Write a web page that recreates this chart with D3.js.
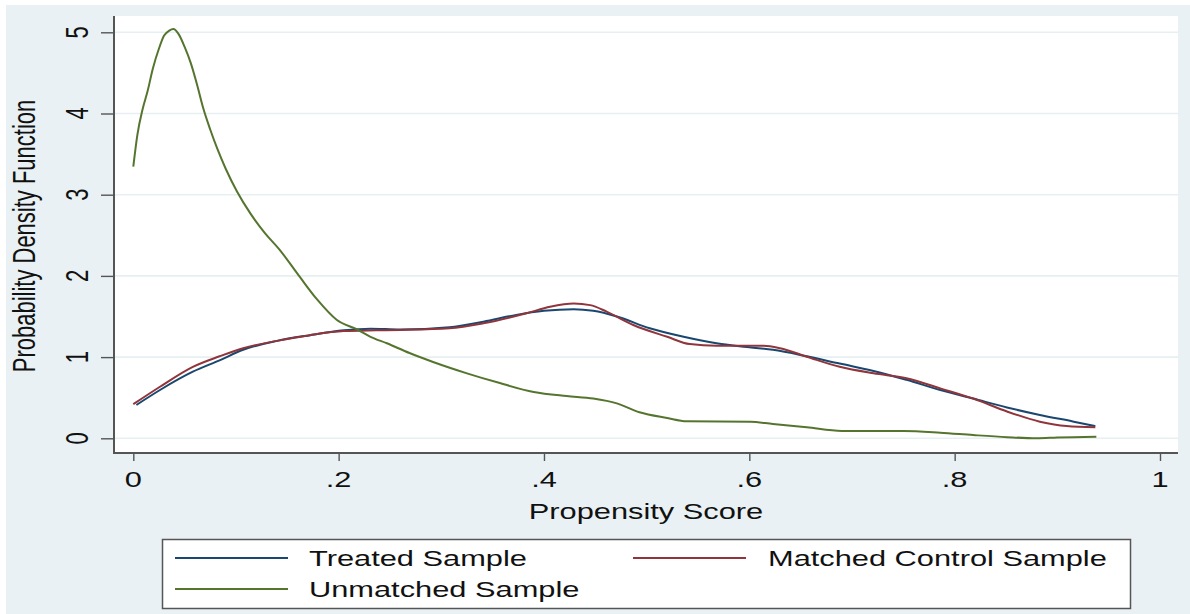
<!DOCTYPE html>
<html>
<head>
<meta charset="utf-8">
<script src="https://cdn.jsdelivr.net/npm/d3@7"></script>
<style>
  body { margin: 0; background: #fff; }
  svg { display: block; font-family: "Liberation Sans", Arial, sans-serif; }
</style>
</head>
<body>
<div class="container"></div>
<script>
const width = 1190,
    height = 614,
    stretch = 1.4;

// Treated Sample (blue)
const treatedX = [0.003, 0.026, 0.058, 0.084, 0.107, 0.14, 0.172, 0.205, 0.231, 0.26, 0.308, 0.341, 0.373, 0.40, 0.429, 0.448, 0.471, 0.503, 0.536, 0.568, 0.60, 0.623, 0.656, 0.688, 0.721, 0.753, 0.786, 0.818, 0.851, 0.883, 0.916, 0.937];
const treatedY = [0.41, 0.595, 0.82, 0.96, 1.09, 1.20, 1.27, 1.33, 1.35, 1.34, 1.367, 1.436, 1.52, 1.57, 1.59, 1.57, 1.50, 1.355, 1.25, 1.17, 1.12, 1.09, 1.01, 0.92, 0.83, 0.72, 0.595, 0.49, 0.38, 0.287, 0.205, 0.15];

// Matched Control Sample (red)
const matchedX = [0, 0.026, 0.058, 0.084, 0.107, 0.14, 0.172, 0.205, 0.237, 0.26, 0.308, 0.341, 0.383, 0.406, 0.429, 0.445, 0.461, 0.487, 0.52, 0.542, 0.568, 0.60, 0.614, 0.63, 0.656, 0.688, 0.721, 0.753, 0.786, 0.818, 0.851, 0.883, 0.909, 0.937];
const matchedY = [0.42, 0.635, 0.88, 1.01, 1.11, 1.20, 1.27, 1.32, 1.33, 1.335, 1.355, 1.416, 1.54, 1.62, 1.66, 1.64, 1.56, 1.395, 1.25, 1.16, 1.14, 1.14, 1.14, 1.11, 1.005, 0.88, 0.80, 0.74, 0.615, 0.49, 0.33, 0.205, 0.15, 0.135];

// Unmatched Sample (green)
const unmatchedX = [0, 0.004, 0.009, 0.014, 0.019, 0.025, 0.03, 0.035, 0.039, 0.044, 0.05, 0.056, 0.062, 0.068, 0.075, 0.082, 0.09, 0.101, 0.114, 0.128, 0.142, 0.162, 0.179, 0.198, 0.218, 0.231, 0.247, 0.269, 0.292, 0.325, 0.357, 0.39, 0.422, 0.448, 0.471, 0.493, 0.52, 0.539, 0.601, 0.623, 0.656, 0.69, 0.75, 0.786, 0.818, 0.851, 0.88, 0.90, 0.938];
const unmatchedY = [3.345, 3.74, 4.05, 4.28, 4.55, 4.8, 4.96, 5.02, 5.04, 4.98, 4.82, 4.62, 4.36, 4.07, 3.8, 3.56, 3.32, 3.04, 2.77, 2.53, 2.33, 1.99, 1.71, 1.46, 1.34, 1.25, 1.17, 1.05, 0.94, 0.80, 0.68, 0.57, 0.52, 0.49, 0.43, 0.32, 0.25, 0.21, 0.205, 0.176, 0.135, 0.09, 0.09, 0.069, 0.04, 0.014, 0.0, 0.01, 0.02];

const xTicks = [0, 0.2, 0.4, 0.6, 0.8, 1];
const xTickLabels = ['0', '.2', '.4', '.6', '.8', '1'];
const yTicks = [0, 1, 2, 3, 4, 5];

const seriesNames = ['Treated Sample', 'Matched Control Sample', 'Unmatched Sample'];
const seriesColors = ['#1a476f', '#90353b', '#55752f'];

const series = [
    { name: seriesNames[0], color: seriesColors[0], xs: treatedX, ys: treatedY },
    { name: seriesNames[1], color: seriesColors[1], xs: matchedX, ys: matchedY },
    { name: seriesNames[2], color: seriesColors[2], xs: unmatchedX, ys: unmatchedY }
];

const plot = { left: 114, right: 1178, top: 16, bottom: 453 };

const x = d3.scaleLinear().domain([0, 1]).range([133.3, 1160]);
const y = d3.scaleLinear().domain([0, 5]).range([438.3, 32.3]);

const svg = d3.select('.container')
    .append('svg')
    .attr('width', width)
    .attr('height', height);

// outer background
svg.append('rect')
    .attr('x', 6).attr('y', 5)
    .attr('width', width - 6).attr('height', height - 5)
    .attr('fill', '#e9f1f4');

// plot region
svg.append('rect')
    .attr('x', plot.left).attr('y', plot.top)
    .attr('width', plot.right - plot.left)
    .attr('height', plot.bottom - plot.top)
    .attr('fill', '#fff');

// gridlines
svg.append('g')
    .selectAll('line')
    .data(yTicks)
    .enter()
    .append('line')
    .attr('x1', plot.left).attr('x2', plot.right)
    .attr('y1', d => y(d)).attr('y2', d => y(d))
    .attr('stroke', '#e6eff2')
    .attr('stroke-width', 1.6);

// stretched text helper
function label(g, px, py, txt, anchor, rotate) {
    return g.append('text')
        .attr('transform', `translate(${px},${py}) scale(${stretch},1)` + (rotate ? ' rotate(-90)' : ''))
        .attr('text-anchor', anchor)
        .attr('font-size', 22)
        .attr('fill', '#111')
        .text(txt);
}

// y axis
const yAxis = svg.append('g')
    .attr('transform', `translate(${plot.left},0)`)
    .call(d3.axisLeft(y).tickValues(yTicks).tickSize(13).tickFormat(''));
yAxis.select('.domain').remove();
yAxis.selectAll('.tick line').attr('stroke', '#555').attr('stroke-width', 1.4);

yTicks.forEach(t => label(svg, 88, y(t), String(t), 'middle', true));

// x axis
const xAxis = svg.append('g')
    .attr('transform', `translate(0,${plot.bottom})`)
    .call(d3.axisBottom(x).tickValues(xTicks).tickSize(8).tickFormat(''));
xAxis.select('.domain').remove();
xAxis.selectAll('.tick line').attr('stroke', '#555').attr('stroke-width', 1.4);

xTicks.forEach((t, i) => label(svg, x(t), 487, xTickLabels[i], 'middle', false));

// axis lines
svg.append('path')
    .attr('d', `M${plot.left},${plot.top}V${plot.bottom}H${plot.right}`)
    .attr('fill', 'none')
    .attr('stroke', '#555')
    .attr('stroke-width', 2);

// titles
label(svg, (plot.left + plot.right) / 2, 519, 'Propensity Score', 'middle', false);
label(svg, 35, 236, 'Probability Density Function', 'middle', true);

// lines
const line = d3.line()
    .x(d => x(d[0]))
    .y(d => y(d[1]))
    .curve(d3.curveMonotoneX);

svg.append('g')
    .selectAll('path')
    .data(series)
    .enter()
    .append('path')
    .attr('d', s => line(s.xs.map((v, i) => [v, s.ys[i]])))
    .attr('fill', 'none')
    .attr('stroke', s => s.color)
    .attr('stroke-width', 2);

// legend
const legend = svg.append('g');
legend.append('rect')
    .attr('x', 162.5).attr('y', 539.5)
    .attr('width', 968).attr('height', 69)
    .attr('fill', '#fff')
    .attr('stroke', '#555')
    .attr('stroke-width', 1.5);

const legendPos = [
    { lx: 175, ly: 558, tx: 309 },
    { lx: 633, ly: 558, tx: 768 },
    { lx: 175, ly: 589, tx: 309 }
];

series.forEach((s, i) => {
    const p = legendPos[i];
    legend.append('line')
        .attr('x1', p.lx).attr('x2', p.lx + 113)
        .attr('y1', p.ly).attr('y2', p.ly)
        .attr('stroke', s.color)
        .attr('stroke-width', 2);
    label(legend, p.tx, p.ly + 8, s.name, 'start', false);
});
</script>
</body>
</html>
